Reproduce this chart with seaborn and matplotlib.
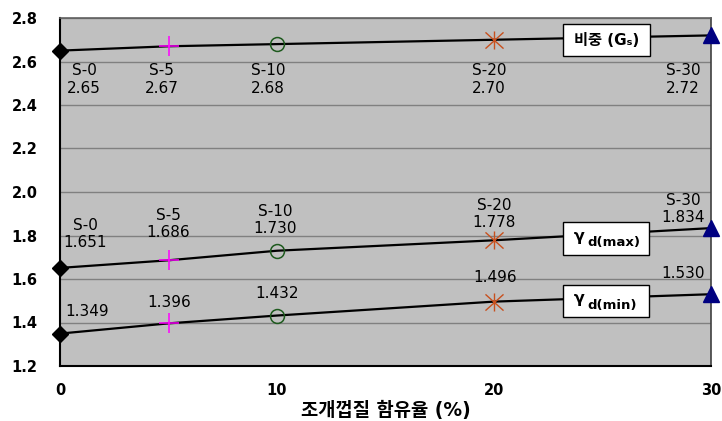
import matplotlib
matplotlib.use("Agg")
import matplotlib.pyplot as plt
from matplotlib.patches import Rectangle
from matplotlib.path import Path
import seaborn as sns
import pandas as pd

# shell content (%) and sample names
shell_pct = [0, 5, 10, 20, 30]
samples = ["S-0", "S-5", "S-10", "S-20", "S-30"]

# specific gravity and dry unit weights
gs = [2.65, 2.67, 2.68, 2.70, 2.72]
gd_max = [1.651, 1.686, 1.730, 1.778, 1.834]
gd_min = [1.349, 1.396, 1.432, 1.496, 1.530]

y_ticks = [1.2, 1.4, 1.6, 1.8, 2.0, 2.2, 2.4, 2.6, 2.8]
x_ticks = [0, 10, 20, 30]

sns.set_theme(style="white")
FAM = ["DejaVu Sans", "Noto Sans CJK KR"]
plt.rcParams["font.family"] = FAM
plt.rcParams["text.color"] = "black"
plt.rcParams["axes.labelcolor"] = "black"
plt.rcParams["xtick.color"] = "black"
plt.rcParams["ytick.color"] = "black"

PX = 72 / 100  # points per pixel at 100 dpi

fig = plt.figure(figsize=(7.22, 4.21), dpi=100)
ax = fig.add_axes([60 / 722, 1 - 366 / 421, 651 / 722, 348 / 421])
ax.set_facecolor("#C0C0C0")

df = pd.DataFrame({"x": shell_pct, "gs": gs, "max": gd_max, "min": gd_min})
for col in ["gs", "max", "min"]:
    sns.lineplot(data=df, x="x", y=col, ax=ax, color="black", lw=1.6,
                 zorder=3, clip_on=False)

# asterisk: vertical bar plus two diagonals
asterisk = Path(
    [(0, -1), (0, 1), (-1, -0.9), (1, 0.9), (-1, 0.9), (1, -0.9)],
    [Path.MOVETO, Path.LINETO, Path.MOVETO, Path.LINETO, Path.MOVETO,
     Path.LINETO],
)

marker_styles = [
    dict(marker="D", ms=8, mfc="black", mec="black"),
    dict(marker="+", ms=15, mew=1.1, mec="#FF00FF"),
    dict(marker="o", ms=10, mfc="none", mec="#1E5A1E", mew=1.1),
    dict(marker=asterisk, ms=13, mew=1.0, mec="#C8501E"),
    dict(marker="^", ms=11, mfc="#000080", mec="#000080"),
]
for series in [gs, gd_max, gd_min]:
    for xi, yi, st in zip(shell_pct, series, marker_styles):
        ax.plot([xi], [yi], ls="none", zorder=5, clip_on=False, **st)

LBL = dict(ha="center", va="center", fontsize=11, linespacing=1.2,
           color="black", zorder=6, textcoords="offset points")

# specific gravity labels sit on a common row below the line
gs_row = 2.517
gs_dx = [24, -7, -9, -5, -28]
for xi, yi, s, v, dx in zip(shell_pct, gs, samples, gs, gs_dx):
    ax.annotate(f"{s}\n{v:.2f}", (xi, gs_row), xytext=(dx * PX, 0), **LBL)

max_dx = [25, 0, -2, 0, -28]
max_dy = [34, 36, 31, 26, 19]
for xi, yi, s, v, dx, dy in zip(shell_pct, gd_max, samples, gd_max,
                                max_dx, max_dy):
    ax.annotate(f"{s}\n{v:.3f}", (xi, yi), xytext=(dx * PX, dy * PX), **LBL)

min_dx = [27, 1, 0, 1, -28]
min_dy = [22, 21, 22, 24, 21]
for xi, yi, v, dx, dy in zip(shell_pct, gd_min, gd_min, min_dx, min_dy):
    ax.annotate(f"{v:.3f}", (xi, yi), xytext=(dx * PX, dy * PX), **LBL)


def box(x0, x1, y0, y1):
    """White label box given in pixel bounds of the plot area."""
    bx = (x0 - 60) / 651
    bw = (x1 - x0) / 651
    by = 1 - (y1 - 18) / 348
    bh = (y1 - y0) / 348
    ax.add_patch(Rectangle((bx, by), bw, bh, transform=ax.transAxes,
                           facecolor="white", edgecolor="black", lw=1,
                           zorder=7))
    return bx, by, bw, bh


bx, by, bw, bh = box(563, 650, 24, 56)
ax.text(bx + bw / 2, by + bh / 2, "비중 (G\u209b)", transform=ax.transAxes,
        ha="center", va="center", fontsize=11, fontweight="bold",
        zorder=8)

for (y0, y1), sub in zip([(222, 255), (285, 317)], ["d(max)", "d(min)"]):
    bx, by, bw, bh = box(563, 649, y0, y1)
    cy = by + bh / 2
    ax.text((574 - 60) / 651, cy + 2 / 348, "γ", transform=ax.transAxes,
            ha="left", va="center", fontsize=11.5, fontweight="bold",
            zorder=8)
    ax.text((587 - 60) / 651, cy - 4 / 348, sub, transform=ax.transAxes,
            ha="left", va="center", fontsize=9.5, fontweight="bold",
            zorder=8)

ax.set_xlim(0, 30)
ax.set_ylim(1.2, 2.8)
ax.set_yticks(y_ticks)
ax.set_yticklabels([f"{t:.1f}" for t in y_ticks], fontsize=10.5,
                   fontweight="bold")
ax.set_xticks(x_ticks)
ax.set_xticklabels([str(t) for t in x_ticks], fontsize=10.5,
                   fontweight="bold")
ax.set_xticks([5, 15, 25], minor=True)
ax.tick_params(axis="x", which="both", direction="in", length=4,
               color="black", pad=12)
ax.tick_params(axis="y", length=0, pad=16)
ax.yaxis.grid(True, color="#808080", lw=1)
ax.set_axisbelow(True)
ax.set_xlabel("조개껍질 함유율 (%)", fontsize=13.5, fontweight="bold",
              labelpad=2)
ax.set_ylabel("")

for side in ["left", "bottom"]:
    ax.spines[side].set_color("black")
    ax.spines[side].set_linewidth(1.5)
ax.spines["top"].set_color("#606060")
ax.spines["top"].set_linewidth(1.2)
ax.spines["right"].set_color("#404040")
ax.spines["right"].set_linewidth(1.2)

fig.savefig("out.png", dpi=100)
